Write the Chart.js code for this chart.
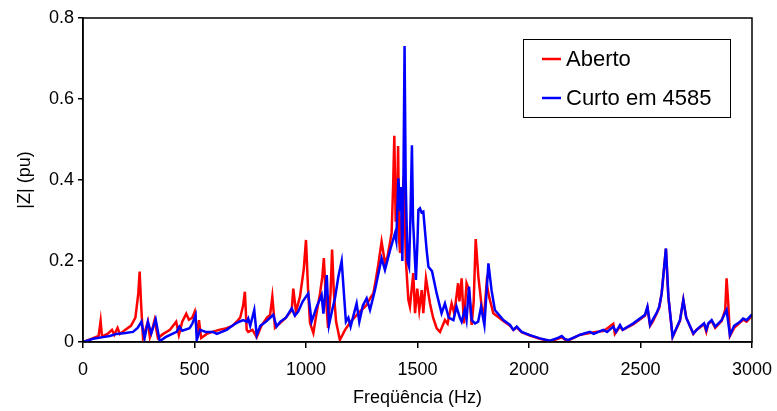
<!DOCTYPE html>
<html>
<head>
<meta charset="utf-8">
<script src="https://cdn.jsdelivr.net/npm/chart.js@4.4.1/dist/chart.umd.min.js"></script>
<style>
    html, body { margin: 0; padding: 0; background: #fff; }
    #wrap { width: 777px; height: 411px; }
</style>
</head>
<body>
<div id="wrap"><canvas id="grafico" width="777" height="411"></canvas></div>
<script>
// Datos
const serieNomes = ['Aberto', 'Curto em 4585'];
const serieCores = ['#ff0000', '#0000ff'];

const freqAberto = [0, 40, 70, 79, 85, 110, 130, 140, 155, 165, 190, 215, 235, 248, 254, 260, 269, 280, 291, 300,
    310, 321, 336, 360, 390, 418, 430, 445, 463, 475, 490, 501, 514, 520, 530, 555, 580, 610, 644, 670,
    689, 705, 718, 726, 734, 741, 760, 779, 800, 825, 839, 849, 861, 880, 910, 936, 943, 955, 973, 990,
    1000, 1010, 1018, 1033, 1050, 1063, 1073, 1080, 1088, 1099, 1110, 1117, 1125, 1135, 1152, 1175, 1200, 1225, 1249, 1270,
    1290, 1302, 1315, 1324, 1339, 1347, 1354, 1365, 1375, 1384, 1391, 1396, 1402, 1407, 1413, 1418, 1422, 1428, 1438, 1448,
    1459, 1466, 1481, 1489, 1499, 1508, 1519, 1526, 1538, 1556, 1570, 1586, 1601, 1623, 1635, 1653, 1665, 1682, 1688, 1698,
    1708, 1720, 1730, 1743, 1752, 1761, 1773, 1788, 1798, 1810, 1821, 1840, 1885, 1915, 1930, 1945, 1967, 2004, 2049, 2094,
    2130, 2147, 2161, 2177, 2230, 2273, 2300, 2333, 2355, 2378, 2385, 2408, 2420, 2468, 2520, 2531, 2543, 2555, 2572, 2584,
    2595, 2614, 2625, 2644, 2677, 2692, 2705, 2737, 2750, 2767, 2785, 2795, 2804, 2819, 2835, 2864, 2880, 2886, 2893, 2901,
    2920, 2946, 2960, 2976, 3000];
const zAberto = [0, 0.008, 0.015, 0.052, 0.014, 0.02, 0.03, 0.018, 0.035, 0.02, 0.03, 0.04, 0.06, 0.12, 0.174, 0.1, 0.01, 0.03, 0.05, 0.012,
    0.03, 0.054, 0.01, 0.02, 0.03, 0.05, 0.017, 0.05, 0.07, 0.055, 0.06, 0.075, 0.01, 0.054, 0.01, 0.02, 0.025, 0.03, 0.034, 0.04,
    0.05, 0.06, 0.09, 0.124, 0.03, 0.025, 0.03, 0.012, 0.04, 0.06, 0.067, 0.112, 0.035, 0.045, 0.06, 0.079, 0.132, 0.075, 0.112, 0.18,
    0.252, 0.12, 0.047, 0.022, 0.08, 0.12, 0.16, 0.207, 0.12, 0.035, 0.12, 0.228, 0.12, 0.05, 0.005, 0.03, 0.05, 0.065, 0.079, 0.09,
    0.11, 0.12, 0.16, 0.19, 0.248, 0.22, 0.195, 0.21, 0.24, 0.27, 0.39, 0.509, 0.3, 0.3, 0.484, 0.25, 0.22, 0.3, 0.408, 0.2,
    0.104, 0.087, 0.17, 0.071, 0.132, 0.079, 0.128, 0.071, 0.157, 0.095, 0.06, 0.034, 0.025, 0.054, 0.045, 0.095, 0.07, 0.145, 0.1, 0.157,
    0.046, 0.145, 0.13, 0.042, 0.1, 0.254, 0.161, 0.087, 0.06, 0.145, 0.112, 0.071, 0.052, 0.04, 0.03, 0.036, 0.024, 0.016, 0.008, 0.002,
    0.008, 0.012, 0.006, 0.004, 0.018, 0.022, 0.025, 0.027, 0.035, 0.045, 0.02, 0.038, 0.03, 0.044, 0.065, 0.085, 0.04, 0.05, 0.07, 0.085,
    0.12, 0.23, 0.11, 0.012, 0.052, 0.104, 0.06, 0.02, 0.03, 0.036, 0.045, 0.025, 0.045, 0.052, 0.035, 0.052, 0.08, 0.157, 0.1, 0.015,
    0.035, 0.048, 0.055, 0.05, 0.065];

const freqCurto = [0, 45, 90, 120, 150, 190, 224, 245, 262, 276, 291, 306, 326, 344, 370, 400, 420, 432, 445, 478,
    490, 505, 510, 525, 550, 583, 600, 644, 674, 700, 719, 734, 741, 750, 768, 779, 795, 820, 853, 868,
    885, 910, 936, 950, 965, 985, 1010, 1025, 1048, 1070, 1078, 1093, 1103, 1118, 1130, 1145, 1160, 1170, 1179, 1190,
    1200, 1215, 1227, 1239, 1255, 1272, 1287, 1309, 1325, 1339, 1354, 1377, 1399, 1405, 1414, 1422, 1426, 1432, 1437, 1442,
    1447, 1455, 1462, 1468, 1475, 1480, 1493, 1500, 1504, 1511, 1518, 1526, 1541, 1549, 1565, 1586, 1608, 1623, 1640, 1661,
    1675, 1690, 1698, 1712, 1720, 1731, 1743, 1758, 1772, 1785, 1800, 1818, 1832, 1847, 1885, 1915, 1930, 1945, 1967, 2004,
    2049, 2094, 2130, 2147, 2161, 2177, 2230, 2273, 2290, 2333, 2350, 2378, 2390, 2408, 2420, 2468, 2520, 2531, 2543, 2560,
    2572, 2584, 2595, 2614, 2625, 2644, 2677, 2692, 2705, 2737, 2752, 2767, 2785, 2795, 2804, 2819, 2835, 2864, 2886, 2901,
    2920, 2946, 2960, 2976, 3000];
const zCurto = [0, 0.008, 0.012, 0.015, 0.02, 0.022, 0.025, 0.035, 0.05, 0.009, 0.05, 0.021, 0.056, 0.002, 0.012, 0.02, 0.025, 0.038, 0.028, 0.034,
    0.045, 0.066, 0.005, 0.03, 0.025, 0.025, 0.02, 0.03, 0.042, 0.05, 0.054, 0.05, 0.058, 0.04, 0.079, 0.017, 0.04, 0.05, 0.067, 0.038,
    0.05, 0.06, 0.083, 0.065, 0.075, 0.1, 0.12, 0.05, 0.087, 0.116, 0.07, 0.165, 0.042, 0.08, 0.108, 0.161, 0.2, 0.12, 0.05, 0.06,
    0.038, 0.07, 0.095, 0.05, 0.09, 0.108, 0.079, 0.128, 0.17, 0.207, 0.178, 0.227, 0.268, 0.25, 0.404, 0.326, 0.383, 0.2, 0.4, 0.731,
    0.4, 0.2, 0.186, 0.3, 0.486, 0.3, 0.153, 0.25, 0.326, 0.33, 0.32, 0.322, 0.227, 0.186, 0.175, 0.12, 0.071, 0.095, 0.06, 0.054,
    0.087, 0.06, 0.05, 0.08, 0.055, 0.137, 0.054, 0.046, 0.05, 0.087, 0.042, 0.194, 0.128, 0.079, 0.054, 0.042, 0.03, 0.038, 0.025, 0.017,
    0.009, 0.003, 0.01, 0.015, 0.007, 0.005, 0.018, 0.025, 0.02, 0.03, 0.025, 0.038, 0.025, 0.042, 0.03, 0.046, 0.067, 0.087, 0.042, 0.06,
    0.071, 0.087, 0.12, 0.231, 0.112, 0.013, 0.054, 0.104, 0.06, 0.021, 0.03, 0.038, 0.046, 0.03, 0.046, 0.054, 0.038, 0.054, 0.079, 0.017,
    0.04, 0.05, 0.058, 0.054, 0.068];

const ticksX = [0, 500, 1000, 1500, 2000, 2500, 3000];
const ticksY = [0, 0.2, 0.4, 0.6, 0.8];

const fonte = "'Liberation Sans', Arial, sans-serif";

function pontos(xs, ys) {
    return xs.map((x, i) => ({ x: x, y: ys[i] }));
}

// marco del area de la grafica y leyenda con borde
const marcoLeyenda = {
    id: 'marcoLeyenda',
    afterDraw(chart) {
        const ctx = chart.ctx;
        const a = chart.chartArea;
        ctx.save();
        ctx.strokeStyle = '#000';
        ctx.lineWidth = 1.5;
        ctx.strokeRect(a.left, a.top, a.right - a.left, a.bottom - a.top);

        // caja de la leyenda
        const bx = 523.5, by = 39.5, bw = 207, bh = 78;
        ctx.fillStyle = '#fff';
        ctx.fillRect(bx, by, bw, bh);
        ctx.lineWidth = 1;
        ctx.strokeRect(bx, by, bw, bh);

        ctx.font = '22px ' + fonte;
        ctx.textBaseline = 'middle';
        serieNomes.forEach((nome, i) => {
            const yy = 59 + i * 39;
            ctx.strokeStyle = serieCores[i];
            ctx.lineWidth = 2.5;
            ctx.beginPath();
            ctx.moveTo(542, yy);
            ctx.lineTo(561, yy);
            ctx.stroke();
            ctx.fillStyle = '#000';
            ctx.fillText(nome, 566, yy + 1);
        });
        ctx.restore();
    }
};

const ctx = document.getElementById('grafico').getContext('2d');
const grafico = new Chart(ctx, {
    type: 'line',
    data: {
        datasets: [{
            label: serieNomes[0],
            data: pontos(freqAberto, zAberto),
            borderColor: serieCores[0],
            borderWidth: 2.5,
            pointRadius: 0,
            tension: 0,
            order: 2
        }, {
            label: serieNomes[1],
            data: pontos(freqCurto, zCurto),
            borderColor: serieCores[1],
            borderWidth: 2.5,
            pointRadius: 0,
            tension: 0,
            order: 1
        }]
    },
    options: {
        responsive: false,
        animation: false,
        layout: {
            padding: { top: 18, right: 25, left: 0, bottom: 0 }
        },
        plugins: {
            legend: { display: false },
            tooltip: { enabled: false }
        },
        scales: {
            x: {
                type: 'linear',
                min: 0,
                max: 3000,
                afterBuildTicks: (scale) => {
                    scale.ticks = ticksX.map(v => ({ value: v }));
                },
                afterFit: (scale) => {
                    scale.height = 69;
                    scale.paddingRight = 0;
                    scale.paddingLeft = 0;
                },
                ticks: {
                    color: '#000',
                    font: { family: fonte, size: 18 },
                    padding: 11,
                    maxRotation: 0,
                    callback: (v) => String(v)
                },
                grid: {
                    drawOnChartArea: false,
                    drawTicks: true,
                    tickLength: 6,
                    color: '#000',
                    lineWidth: 1.5
                },
                border: { color: '#000', width: 1.5 },
                title: {
                    display: true,
                    text: 'Freqüência (Hz)',
                    color: '#000',
                    font: { family: fonte, size: 18 },
                    padding: { top: 0, bottom: 2 }
                }
            },
            y: {
                min: 0,
                max: 0.8,
                afterBuildTicks: (scale) => {
                    scale.ticks = ticksY.map(v => ({ value: v }));
                },
                afterFit: (scale) => { scale.width = 83; },
                ticks: {
                    color: '#000',
                    font: { family: fonte, size: 18 },
                    padding: 4,
                    callback: (v) => v === 0 ? '0' : v.toFixed(1)
                },
                grid: {
                    drawOnChartArea: false,
                    drawTicks: true,
                    tickLength: 5,
                    color: '#000',
                    lineWidth: 1.5
                },
                border: { color: '#000', width: 1.5 },
                title: {
                    display: true,
                    text: '|Z| (pu)',
                    color: '#000',
                    font: { family: fonte, size: 18 },
                    padding: { top: 14, bottom: 0 }
                }
            }
        }
    },
    plugins: [marcoLeyenda]
});
</script>
</body>
</html>
